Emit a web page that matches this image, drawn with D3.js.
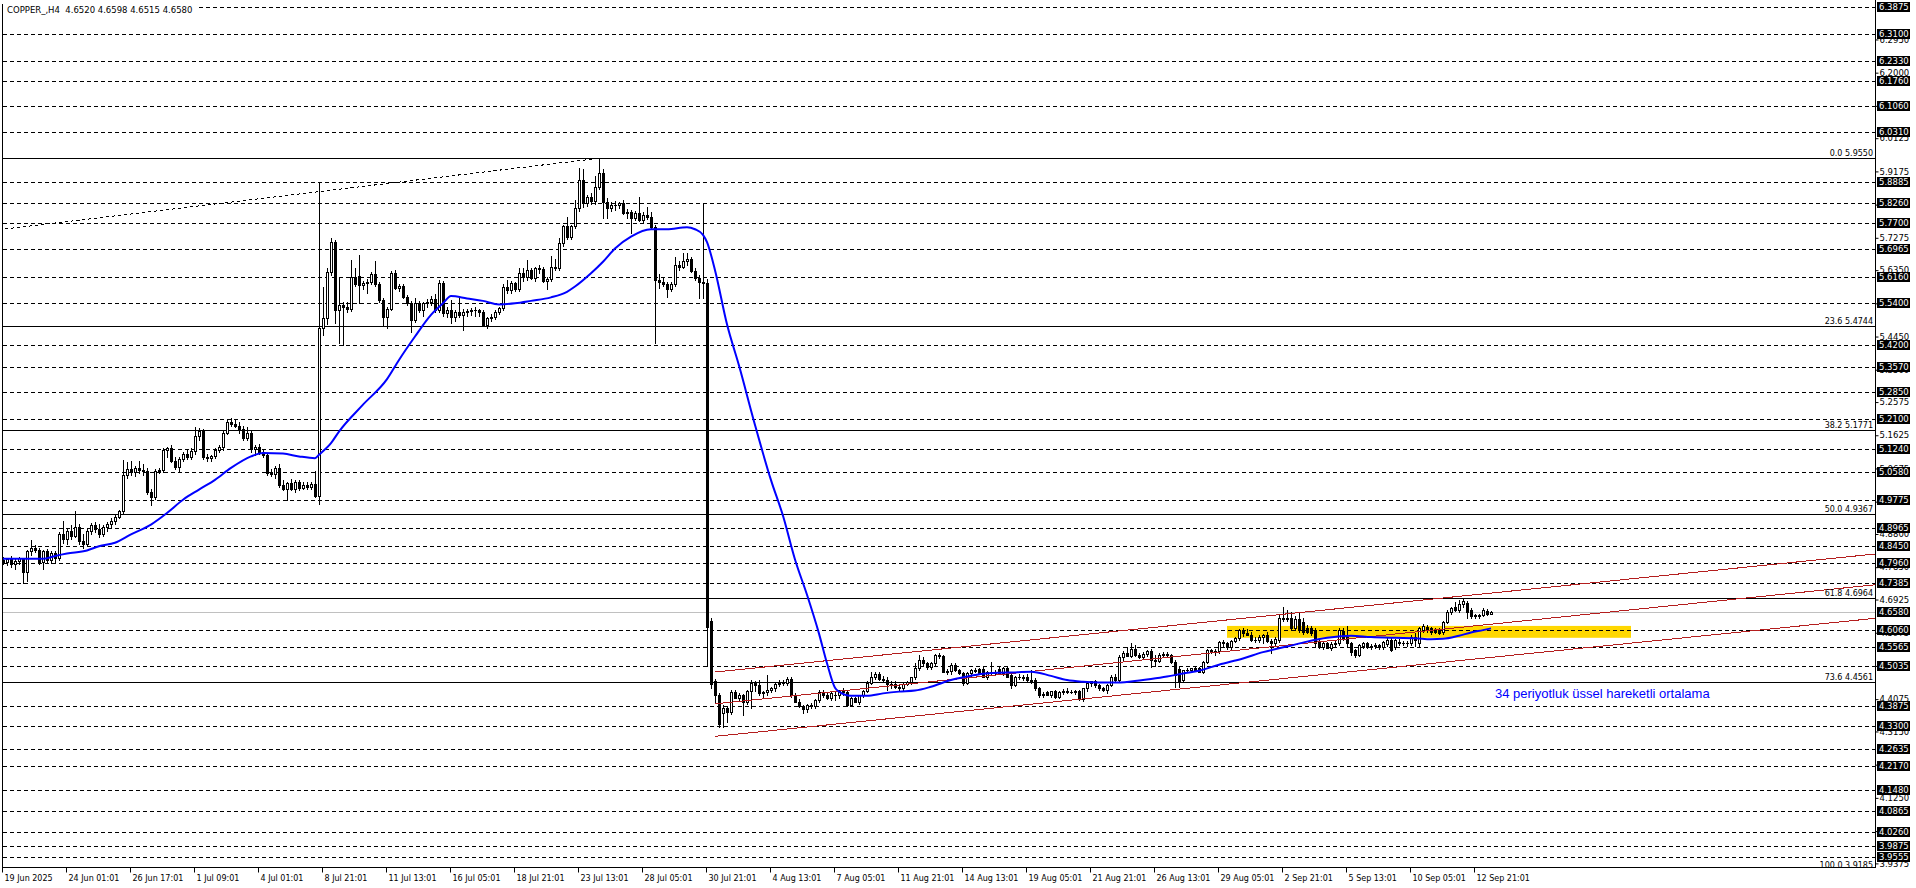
<!DOCTYPE html>
<html><head><meta charset="utf-8">
<script src="https://cdn.jsdelivr.net/npm/d3@7"></script>
<style>
html,body{margin:0;padding:0;background:#fff;overflow:hidden}
svg{display:block}
</style></head><body>
<svg id="chart" width="1916" height="888"></svg>
<script>
// ---------- DATA ----------
const opens=[
4.805,4.800,4.808,4.795,4.802,4.810,4.770,4.830,4.840,4.835,
4.800,4.830,4.805,4.825,4.810,4.880,4.865,4.888,4.875,4.900,
4.860,4.850,4.890,4.905,4.895,4.880,4.900,4.908,4.918,4.930,
4.945,5.050,5.065,5.058,5.068,5.062,5.060,5.000,4.985,5.060,
5.062,5.120,5.125,5.090,5.072,5.095,5.108,5.100,5.118,5.160,
5.175,5.100,5.098,5.102,5.120,5.128,5.170,5.200,5.196,5.188,
5.180,5.155,5.170,5.122,5.130,5.115,5.105,5.055,5.052,5.070,
5.020,5.010,5.025,5.010,5.028,5.012,5.020,5.015,5.022,4.990,
5.470,5.497,5.630,5.716,5.521,5.535,5.530,5.525,5.615,5.618,
5.592,5.598,5.602,5.625,5.594,5.550,5.500,5.525,5.626,5.583,
5.590,5.559,5.540,5.492,5.540,5.520,5.540,5.545,5.552,5.521,
5.597,5.511,5.522,5.500,5.515,5.508,5.516,5.518,5.520,5.522,
5.516,5.478,5.497,5.502,5.515,5.526,5.587,5.578,5.597,5.580,
5.626,5.615,5.635,5.612,5.640,5.638,5.605,5.610,5.645,5.640,
5.712,5.760,5.731,5.761,5.812,5.893,5.826,5.845,5.832,5.874,
5.912,5.831,5.812,5.820,5.822,5.826,5.798,5.800,5.783,5.798,
5.778,5.793,5.788,5.757,5.607,5.600,5.595,5.580,5.595,5.650,
5.645,5.662,5.668,5.633,5.612,5.600,5.597,4.630,4.458,4.420,
4.367,4.381,4.372,4.429,4.410,4.419,4.400,4.430,4.453,4.448,
4.424,4.428,4.435,4.438,4.452,4.455,4.453,4.465,4.419,4.400,
4.388,4.378,4.390,4.388,4.405,4.429,4.420,4.412,4.420,4.418,
4.434,4.428,4.391,4.410,4.400,4.418,4.432,4.455,4.472,4.478,
4.465,4.462,4.450,4.452,4.442,4.438,4.452,4.457,4.470,4.496,
4.520,4.510,4.500,4.512,4.534,4.530,4.486,4.488,4.505,4.490,
4.481,4.453,4.481,4.492,4.493,4.493,4.472,4.486,4.481,4.495,
4.481,4.497,4.477,4.448,4.472,4.470,4.472,4.462,4.462,4.438,
4.419,4.428,4.420,4.430,4.415,4.428,4.432,4.429,4.427,4.430,
4.407,4.438,4.453,4.458,4.448,4.438,4.433,4.448,4.472,4.462,
4.528,4.540,4.532,4.552,4.535,4.528,4.538,4.545,4.520,4.518,
4.535,4.538,4.534,4.515,4.495,4.462,4.490,4.492,4.496,4.496,
4.486,4.515,4.548,4.544,4.546,4.572,4.568,4.557,4.575,4.582,
4.605,4.598,4.592,4.577,4.578,4.585,4.592,4.575,4.568,4.577,
4.639,4.636,4.640,4.610,4.638,4.628,4.612,4.610,4.605,4.572,
4.558,4.568,4.555,4.565,4.567,4.603,4.586,4.567,4.548,4.534,
4.560,4.567,4.558,4.560,4.562,4.558,4.565,4.577,4.558,4.572,
4.567,4.569,4.567,4.586,4.567,4.605,4.615,4.610,4.607,4.605,
4.600,4.629,4.658,4.672,4.663,4.680,4.682,4.663,4.648,4.644,
4.648,4.661,4.6520];
const highs=[
4.815,4.812,4.818,4.810,4.815,4.812,4.835,4.864,4.848,4.840,
4.835,4.838,4.832,4.830,4.885,4.917,4.895,4.905,4.945,4.910,
4.880,4.895,4.912,4.915,4.910,4.905,4.915,4.925,4.935,4.950,
5.092,5.085,5.090,5.075,5.088,5.080,5.070,5.010,5.065,5.068,
5.125,5.130,5.135,5.100,5.100,5.115,5.122,5.125,5.185,5.182,
5.180,5.110,5.105,5.125,5.135,5.175,5.205,5.212,5.208,5.200,
5.188,5.185,5.175,5.135,5.138,5.120,5.110,5.065,5.075,5.080,
5.035,5.030,5.038,5.035,5.035,5.030,5.028,5.030,5.060,5.888,
5.588,5.640,5.726,5.722,5.616,5.545,5.545,5.664,5.640,5.678,
5.605,5.610,5.630,5.660,5.600,5.555,5.530,5.632,5.635,5.595,
5.596,5.565,5.548,5.555,5.548,5.545,5.552,5.560,5.568,5.607,
5.605,5.530,5.550,5.520,5.555,5.525,5.525,5.528,5.530,5.525,
5.520,5.500,5.510,5.520,5.530,5.595,5.608,5.605,5.602,5.640,
5.640,5.665,5.640,5.645,5.650,5.645,5.615,5.674,5.668,5.726,
5.765,5.788,5.765,5.836,5.926,5.923,5.850,5.855,5.903,5.955,
5.925,5.840,5.830,5.832,5.830,5.835,5.810,5.806,5.805,5.845,
5.800,5.817,5.800,5.765,5.625,5.615,5.600,5.600,5.672,5.660,
5.684,5.685,5.672,5.640,5.620,5.826,5.610,4.640,4.465,4.425,
4.390,4.385,4.433,4.435,4.425,4.422,4.435,4.463,4.460,4.463,
4.430,4.477,4.442,4.455,4.462,4.462,4.470,4.472,4.425,4.408,
4.392,4.395,4.396,4.408,4.434,4.435,4.428,4.432,4.428,4.434,
4.438,4.432,4.415,4.414,4.420,4.435,4.458,4.486,4.485,4.484,
4.475,4.470,4.458,4.460,4.448,4.456,4.460,4.472,4.510,4.534,
4.528,4.515,4.515,4.536,4.540,4.535,4.494,4.512,4.512,4.495,
4.486,4.485,4.495,4.496,4.496,4.503,4.488,4.515,4.490,4.502,
4.500,4.500,4.482,4.475,4.478,4.476,4.478,4.490,4.468,4.442,
4.428,4.432,4.432,4.433,4.430,4.436,4.438,4.434,4.433,4.433,
4.440,4.458,4.460,4.462,4.452,4.442,4.450,4.477,4.478,4.535,
4.545,4.558,4.567,4.562,4.540,4.542,4.548,4.550,4.535,4.540,
4.542,4.542,4.538,4.520,4.500,4.492,4.498,4.498,4.500,4.500,
4.518,4.550,4.552,4.550,4.575,4.578,4.572,4.578,4.586,4.608,
4.612,4.608,4.600,4.585,4.590,4.595,4.600,4.580,4.585,4.648,
4.672,4.663,4.657,4.645,4.655,4.640,4.620,4.618,4.612,4.578,
4.575,4.572,4.570,4.575,4.610,4.612,4.617,4.572,4.552,4.565,
4.572,4.572,4.566,4.568,4.566,4.575,4.582,4.583,4.580,4.580,
4.575,4.575,4.592,4.596,4.615,4.622,4.620,4.615,4.612,4.610,
4.632,4.662,4.672,4.686,4.690,4.693,4.688,4.668,4.652,4.650,
4.667,4.664,4.6598];
const lows=[
4.795,4.790,4.785,4.780,4.795,4.740,4.745,4.820,4.828,4.795,
4.780,4.800,4.798,4.800,4.805,4.855,4.850,4.865,4.870,4.850,
4.840,4.845,4.880,4.885,4.870,4.875,4.890,4.900,4.910,4.925,
4.940,5.040,5.050,5.045,5.055,5.050,4.995,4.963,4.980,5.055,
5.058,5.100,5.085,5.065,5.060,5.090,5.095,5.095,5.110,5.150,
5.095,5.090,5.088,5.098,5.115,5.120,5.165,5.190,5.185,5.170,
5.150,5.150,5.115,5.105,5.110,5.100,5.050,5.045,5.040,5.015,
5.005,4.978,5.005,5.000,5.005,5.008,5.010,5.010,4.985,4.965,
5.450,5.480,5.620,5.483,5.426,5.420,5.515,5.518,5.590,5.540,
5.580,5.570,5.595,5.590,5.545,5.478,5.468,5.520,5.580,5.575,
5.555,5.535,5.459,5.488,5.515,5.505,5.530,5.535,5.515,5.515,
5.505,5.500,5.483,5.490,5.500,5.465,5.505,5.508,5.505,5.505,
5.475,5.470,5.490,5.495,5.510,5.520,5.570,5.570,5.575,5.575,
5.605,5.608,5.610,5.605,5.628,5.600,5.582,5.605,5.635,5.635,
5.705,5.725,5.725,5.755,5.805,5.815,5.818,5.825,5.825,5.868,
5.783,5.783,5.805,5.808,5.812,5.795,5.785,5.740,5.778,5.775,
5.770,5.780,5.755,5.426,5.585,5.590,5.559,5.575,5.590,5.635,
5.640,5.650,5.630,5.608,5.554,5.554,4.502,4.440,4.400,4.327,
4.329,4.343,4.365,4.410,4.405,4.362,4.395,4.381,4.430,4.420,
4.415,4.418,4.428,4.432,4.445,4.448,4.448,4.415,4.398,4.385,
4.367,4.372,4.383,4.382,4.400,4.415,4.408,4.405,4.405,4.410,
4.420,4.388,4.388,4.398,4.395,4.415,4.428,4.452,4.465,4.462,
4.460,4.433,4.440,4.438,4.430,4.432,4.448,4.450,4.465,4.490,
4.505,4.495,4.495,4.505,4.525,4.485,4.478,4.480,4.488,4.478,
4.448,4.450,4.475,4.485,4.478,4.470,4.464,4.478,4.476,4.478,
4.476,4.470,4.440,4.445,4.465,4.462,4.460,4.455,4.435,4.415,
4.415,4.418,4.415,4.410,4.410,4.422,4.425,4.424,4.422,4.405,
4.403,4.432,4.445,4.442,4.435,4.430,4.424,4.445,4.460,4.458,
4.518,4.530,4.528,4.532,4.525,4.524,4.532,4.500,4.502,4.515,
4.530,4.530,4.512,4.443,4.443,4.458,4.485,4.488,4.488,4.485,
4.482,4.510,4.540,4.535,4.540,4.560,4.552,4.552,4.570,4.577,
4.588,4.590,4.575,4.570,4.570,4.568,4.572,4.539,4.560,4.572,
4.630,4.630,4.605,4.605,4.600,4.595,4.598,4.590,4.560,4.555,
4.552,4.553,4.548,4.560,4.562,4.578,4.560,4.534,4.527,4.530,
4.555,4.555,4.552,4.555,4.552,4.552,4.560,4.545,4.552,4.562,
4.562,4.560,4.562,4.560,4.560,4.600,4.600,4.595,4.596,4.594,
4.595,4.625,4.652,4.660,4.658,4.672,4.639,4.639,4.640,4.640,
4.645,4.648,4.6515];
const closes=[
4.800,4.808,4.795,4.802,4.810,4.770,4.830,4.840,4.835,4.800,
4.830,4.805,4.825,4.810,4.880,4.865,4.888,4.875,4.900,4.860,
4.850,4.890,4.905,4.895,4.880,4.900,4.908,4.918,4.930,4.945,
5.050,5.065,5.058,5.068,5.062,5.060,5.000,4.985,5.060,5.062,
5.120,5.125,5.090,5.072,5.095,5.108,5.100,5.118,5.160,5.175,
5.100,5.098,5.102,5.120,5.128,5.170,5.200,5.196,5.188,5.180,
5.155,5.170,5.122,5.130,5.115,5.105,5.055,5.052,5.070,5.020,
5.010,5.025,5.010,5.028,5.012,5.020,5.015,5.022,4.990,5.470,
5.497,5.630,5.716,5.521,5.535,5.530,5.525,5.615,5.595,5.592,
5.598,5.602,5.625,5.594,5.550,5.500,5.525,5.626,5.583,5.590,
5.559,5.540,5.492,5.540,5.520,5.540,5.545,5.552,5.521,5.597,
5.511,5.522,5.500,5.515,5.508,5.516,5.518,5.520,5.522,5.516,
5.478,5.497,5.502,5.515,5.526,5.587,5.578,5.597,5.580,5.626,
5.615,5.635,5.612,5.640,5.638,5.605,5.610,5.645,5.640,5.712,
5.760,5.731,5.761,5.812,5.893,5.826,5.845,5.832,5.874,5.912,
5.831,5.812,5.820,5.822,5.826,5.798,5.800,5.783,5.798,5.778,
5.793,5.788,5.757,5.607,5.600,5.595,5.580,5.595,5.650,5.645,
5.662,5.668,5.633,5.612,5.600,5.597,4.615,4.451,4.420,4.335,
4.381,4.372,4.429,4.410,4.419,4.400,4.430,4.453,4.448,4.424,
4.428,4.435,4.438,4.452,4.455,4.453,4.465,4.419,4.400,4.388,
4.378,4.390,4.388,4.405,4.429,4.420,4.412,4.425,4.418,4.434,
4.428,4.391,4.410,4.400,4.418,4.432,4.455,4.472,4.478,4.465,
4.462,4.450,4.452,4.442,4.438,4.452,4.457,4.470,4.496,4.520,
4.510,4.500,4.512,4.534,4.530,4.486,4.488,4.505,4.490,4.481,
4.453,4.481,4.492,4.488,4.481,4.472,4.486,4.481,4.486,4.481,
4.497,4.472,4.448,4.472,4.470,4.467,4.462,4.458,4.438,4.419,
4.423,4.420,4.430,4.415,4.428,4.432,4.429,4.427,4.430,4.407,
4.438,4.453,4.458,4.448,4.438,4.433,4.448,4.472,4.462,4.528,
4.540,4.532,4.552,4.535,4.528,4.538,4.545,4.520,4.518,4.535,
4.538,4.534,4.515,4.477,4.458,4.490,4.492,4.496,4.491,4.486,
4.515,4.548,4.544,4.546,4.572,4.568,4.557,4.575,4.582,4.605,
4.598,4.592,4.577,4.578,4.585,4.592,4.575,4.568,4.580,4.639,
4.636,4.640,4.610,4.638,4.605,4.600,4.600,4.596,4.567,4.558,
4.568,4.555,4.565,4.567,4.605,4.582,4.567,4.541,4.534,4.562,
4.567,4.558,4.560,4.562,4.558,4.572,4.577,4.548,4.577,4.567,
4.569,4.567,4.586,4.577,4.610,4.617,4.605,4.600,4.601,4.598,
4.629,4.658,4.667,4.663,4.680,4.688,4.658,4.644,4.644,4.648,
4.663,4.651,4.6580];

// 34-period EMA (bar index, price)
const emaBars=[0,10,13,16,21,24,28,32,37,41,45,49,53,57,62,65,70,74,78,79,82,84,90,96,99,103,107,110,112,116,120,124,128,132,137,141,143,147,150,153,157,162,166,171,173,175,176,178,181,184,188,192,195,198,201,204,206,208,209,212,216,220,224,228,232,237,241,245,249,253,257,262,266,270,274,278,282,287,291,295,299,304,310,315,321,326,331,337,342,348,353,357,360,364,367,370,372];
const emaValues=[4.809,4.809,4.817,4.824,4.833,4.845,4.855,4.879,4.907,4.940,4.978,5.007,5.035,5.069,5.102,5.112,5.110,5.102,5.097,5.107,5.140,5.173,5.250,5.323,5.378,5.445,5.507,5.540,5.561,5.554,5.547,5.537,5.540,5.547,5.557,5.573,5.588,5.626,5.659,5.697,5.731,5.752,5.752,5.758,5.752,5.736,5.715,5.635,5.480,5.362,5.192,5.034,4.932,4.807,4.706,4.595,4.510,4.440,4.429,4.417,4.417,4.424,4.429,4.432,4.443,4.462,4.472,4.480,4.483,4.484,4.486,4.474,4.462,4.457,4.455,4.455,4.458,4.465,4.472,4.481,4.489,4.506,4.524,4.542,4.558,4.572,4.583,4.589,4.585,4.583,4.582,4.579,4.580,4.589,4.598,4.605,4.610];

const xLabelBars=[0,16,32,48,64,80,96,112,128,144,160,176,192,208,224,240,256,272,288,304,320,336,352,368];
const xLabels=["19 Jun 2025","24 Jun 01:01","26 Jun 17:01","1 Jul 09:01","4 Jul 01:01","8 Jul 21:01","11 Jul 13:01","16 Jul 05:01","18 Jul 21:01","23 Jul 13:01","28 Jul 05:01","30 Jul 21:01","4 Aug 13:01","7 Aug 05:01","11 Aug 21:01","14 Aug 13:01","19 Aug 05:01","21 Aug 21:01","26 Aug 13:01","29 Aug 05:01","2 Sep 21:01","5 Sep 13:01","10 Sep 05:01","12 Sep 21:01"];

const yTicks=[3.9375,4.0300,4.1250,4.2200,4.3150,4.4075,4.5025,4.5975,4.6925,4.7850,4.8800,4.9725,5.0675,5.1625,5.2575,5.3500,5.4450,5.5400,5.6350,5.7275,5.8225,5.9175,6.0125,6.1050,6.2000,6.2950];

const hLinePrices=[6.3875,6.3100,6.2330,6.1760,6.1060,6.0310,5.8885,5.8260,5.7700,5.6965,5.6160,5.5400,5.4200,5.3570,5.2850,5.2100,5.1240,5.0580,4.9775,4.8965,4.8450,4.7960,4.7385,4.6060,4.5565,4.5035,4.3875,4.3300,4.2635,4.2170,4.1480,4.0865,4.0260,3.9875,3.9555];
const bidPrice=4.6580;

const fibLevels=[0.0,23.6,38.2,50.0,61.8,73.6,100.0];
const fibPrices=[5.9550,5.4744,5.1771,4.9367,4.6964,4.4561,3.9185];
const fibAnchorBars=[-1346,149];
const fibAnchorPrices=[3.9185,5.9550];

const channelBars=[178,468.25];
const channelUpper=[4.485,4.823];
const channelMiddle=[4.394,4.735];
const channelLower=[4.301,4.639];

const zoneBars=[306,407];
const zonePrices=[4.583,4.617];

const titleText="COPPER_,H4  4.6520 4.6598 4.6515 4.6580";
const emaNote="34 periyotluk üssel hareketli ortalama";

// ---------- LAYOUT ----------
const W=1916,H=888;
const plotLeft=3, plotRight=1875, plotTop=4, plotBottom=867;
const x=d3.scaleLinear().domain([0,468.25]).range([3,1876]);
const y=d3.scaleLinear().domain([3.9272,6.4079]).range([867,0]);
const cr=v=>Math.round(v)+0.5;
const AXFONT='"DejaVu Sans", sans-serif';

const svg=d3.select("#chart");
svg.append("rect").attr("width",W).attr("height",H).attr("fill","#fff");
svg.append("defs").append("clipPath").attr("id","plot").append("rect")
  .attr("x",plotLeft).attr("y",plotTop).attr("width",plotRight-plotLeft).attr("height",plotBottom-plotTop);
const g=svg.append("g").attr("clip-path","url(#plot)");

// yellow zone (background object)
g.append("rect")
  .attr("x",x(zoneBars[0])).attr("width",x(zoneBars[1])-x(zoneBars[0]))
  .attr("y",y(zonePrices[1])).attr("height",y(zonePrices[0])-y(zonePrices[1]))
  .attr("fill","#ffd700");

// horizontal dashed lines
g.append("g").attr("shape-rendering","crispEdges").selectAll("line").data(hLinePrices).join("line")
  .attr("x1",plotLeft).attr("x2",plotRight)
  .attr("y1",d=>cr(y(d))).attr("y2",d=>cr(y(d)))
  .attr("stroke","#000").attr("stroke-width",1).attr("stroke-dasharray","4,3");

// bid line
g.append("line").attr("x1",plotLeft).attr("x2",plotRight)
  .attr("y1",cr(y(bidPrice))).attr("y2",cr(y(bidPrice)))
  .attr("stroke","#c0c0c0").attr("stroke-width",1);

// fibonacci level lines
g.append("g").attr("shape-rendering","crispEdges").selectAll("line").data(fibPrices).join("line")
  .attr("x1",plotLeft).attr("x2",plotRight)
  .attr("y1",d=>cr(y(d))).attr("y2",d=>cr(y(d)))
  .attr("stroke","#000").attr("stroke-width",1);

// fib diagonal (dotted)
g.append("line")
  .attr("x1",x(fibAnchorBars[0])).attr("y1",y(fibAnchorPrices[0]))
  .attr("x2",x(fibAnchorBars[1])).attr("y2",y(fibAnchorPrices[1]))
  .attr("stroke","#000").attr("stroke-width",1).attr("stroke-dasharray","3,3")
  .attr("shape-rendering","crispEdges");

// candles
const idx=d3.range(closes.length);
const cg=g.append("g").attr("shape-rendering","crispEdges");
cg.selectAll("line.wick").data(idx).join("line").attr("class","wick")
  .attr("x1",i=>Math.round(x(i))+0.5).attr("x2",i=>Math.round(x(i))+0.5)
  .attr("y1",i=>Math.round(y(highs[i]))).attr("y2",i=>Math.round(y(lows[i]))+1)
  .attr("stroke","#000").attr("stroke-width",1);
cg.selectAll("rect.body").data(idx).join("rect").attr("class","body")
  .each(function(i){
    const cx=Math.round(x(i));
    const yo=Math.round(y(opens[i])), yc=Math.round(y(closes[i]));
    const top=Math.min(yo,yc), bot=Math.max(yo,yc);
    const sel=d3.select(this);
    if(closes[i]>=opens[i] && bot-top>=2){
      sel.attr("x",cx-0.5).attr("y",top+0.5).attr("width",2).attr("height",bot-top)
        .attr("fill","#fff").attr("stroke","#000").attr("stroke-width",1);
    } else {
      sel.attr("x",cx-1).attr("y",top).attr("width",3).attr("height",Math.max(bot-top+1,1))
        .attr("fill","#000");
    }
  });

// channel trend lines
const chLine=d3.line().x(d=>x(d[0])).y(d=>y(d[1]));
[channelUpper,channelMiddle,channelLower].forEach(ch=>{
  g.append("path").attr("d",chLine(channelBars.map((b,k)=>[b,ch[k]])))
    .attr("fill","none").attr("stroke","#b41e1e").attr("stroke-width",1)
    .attr("shape-rendering","crispEdges");
});

// EMA 34
const emaLine=d3.line().x((d,k)=>x(emaBars[k])).y(d=>y(d)).curve(d3.curveMonotoneX);
g.append("path").datum(emaValues).attr("d",emaLine)
  .attr("fill","none").attr("stroke","#0000ff").attr("stroke-width",2);

// fib labels
svg.append("g").selectAll("text").data(fibPrices).join("text")
  .attr("x",plotRight-2).attr("y",d=>Math.round(y(d))-2)
  .attr("text-anchor","end").attr("font-family",AXFONT).attr("font-size","8px").attr("fill","#000")
  .text((d,k)=>fibLevels[k].toFixed(1)+" "+d.toFixed(4));

// EMA note text
svg.append("text").attr("x",x(373)).attr("y",y(4.411))
  .attr("font-family",'"Liberation Sans", Arial, sans-serif').attr("font-size","13px")
  .attr("fill","#0000ff").text(emaNote);

// frame
svg.append("path").attr("d",`M${plotLeft-0.5},${plotTop}V${plotBottom+0.5}H${plotRight+0.5}V0`)
  .attr("fill","none").attr("stroke","#000").attr("stroke-width",1).attr("shape-rendering","crispEdges");

// right price axis
const yAxis=d3.axisRight(y).tickValues(yTicks).tickSize(3).tickPadding(1).tickFormat(d3.format(".4f"));
const ya=svg.append("g").attr("transform",`translate(${plotRight+0.5},0)`).call(yAxis);
ya.select(".domain").remove();
ya.selectAll("text").attr("font-family",AXFONT).attr("font-size","8.5px").attr("fill","#000");
ya.selectAll("line").attr("stroke","#000");

// price boxes on the axis
const boxPrices=hLinePrices.concat([bidPrice]);
const bx=svg.append("g");
bx.selectAll("rect").data(boxPrices).join("rect")
  .attr("x",plotRight+2).attr("y",d=>Math.round(y(d))-5).attr("width",33).attr("height",10).attr("fill","#000");
bx.selectAll("text").data(boxPrices).join("text")
  .attr("x",plotRight+4).attr("y",d=>Math.round(y(d))).attr("dy","0.35em")
  .attr("font-family",AXFONT).attr("font-size","8.5px").attr("fill","#fff")
  .text(d=>d.toFixed(4));

// bottom time axis
const xAxis=d3.axisBottom(x).tickValues(xLabelBars).tickSize(5).tickPadding(3).tickFormat((d,k)=>xLabels[k]);
const xa=svg.append("g").attr("transform",`translate(-1,${plotBottom+0.5})`).call(xAxis);
xa.select(".domain").remove();
xa.selectAll("line").attr("stroke","#000");
xa.selectAll("text").attr("text-anchor","start").attr("x",2)
  .attr("font-family",AXFONT).attr("font-size","8px").attr("fill","#000");

// title
svg.append("rect").attr("x",plotLeft).attr("y",plotTop).attr("width",193).attr("height",11).attr("fill","#fff");
svg.append("text").attr("x",7).attr("y",13).style("white-space","pre")
  .attr("font-family",AXFONT).attr("font-size","8.5px").attr("fill","#000").text(titleText);
</script>
</body></html>
